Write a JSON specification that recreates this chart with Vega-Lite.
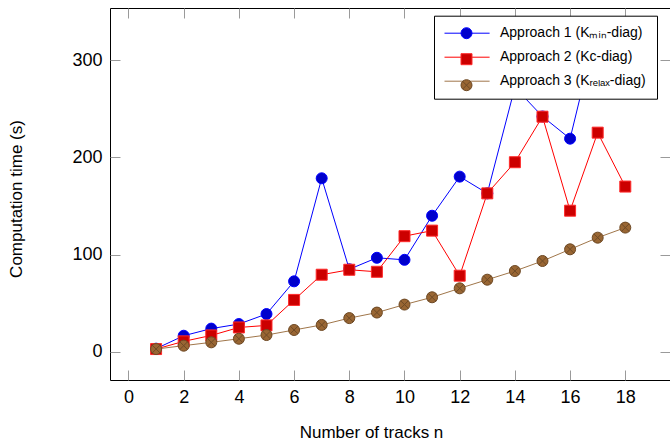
{
  "$schema": "https://vega.github.io/schema/vega-lite/v6.json",
  "width": 560,
  "height": 372,
  "autosize": "none",
  "padding": {"left": 110, "top": 8, "right": 0, "bottom": 64},
  "background": "white",
  "config": {
    "view": {"stroke": "black", "strokeWidth": 1},
    "font": "Liberation Sans",
    "axis": {
      "grid": false,
      "domain": false,
      "ticks": true,
      "tickColor": "#9a9a9a",
      "tickWidth": 1,
      "tickSize": -10,
      "labelColor": "black",
      "titleColor": "black",
      "labelFont": "Liberation Sans",
      "titleFont": "Liberation Sans",
      "labelFontSize": 18,
      "titleFontSize": 17,
      "titleFontWeight": "normal"
    },
    "legend": {
      "title": null,
      "rowPadding": 10,
      "symbolSize": 121,
      "symbolStrokeWidth": 1,
      "labelFont": "Liberation Sans",
      "labelFontSize": 14,
      "labelColor": "black",
      "labelLimit": 300
    }
  },
  "data": {
    "values": [
      {"n": 1, "series": "Approach 1 (Kₘᵢₙ-diag)", "t": 3.4},
      {"n": 2, "series": "Approach 1 (Kₘᵢₙ-diag)", "t": 16.7},
      {"n": 3, "series": "Approach 1 (Kₘᵢₙ-diag)", "t": 24},
      {"n": 4, "series": "Approach 1 (Kₘᵢₙ-diag)", "t": 28.7},
      {"n": 5, "series": "Approach 1 (Kₘᵢₙ-diag)", "t": 39},
      {"n": 6, "series": "Approach 1 (Kₘᵢₙ-diag)", "t": 72.6},
      {"n": 7, "series": "Approach 1 (Kₘᵢₙ-diag)", "t": 178.5},
      {"n": 8, "series": "Approach 1 (Kₘᵢₙ-diag)", "t": 85},
      {"n": 9, "series": "Approach 1 (Kₘᵢₙ-diag)", "t": 96.8},
      {"n": 10, "series": "Approach 1 (Kₘᵢₙ-diag)", "t": 94.7},
      {"n": 11, "series": "Approach 1 (Kₘᵢₙ-diag)", "t": 140},
      {"n": 12, "series": "Approach 1 (Kₘᵢₙ-diag)", "t": 180.2},
      {"n": 13, "series": "Approach 1 (Kₘᵢₙ-diag)", "t": 163},
      {"n": 14, "series": "Approach 1 (Kₘᵢₙ-diag)", "t": 272},
      {"n": 15, "series": "Approach 1 (Kₘᵢₙ-diag)", "t": 242},
      {"n": 16, "series": "Approach 1 (Kₘᵢₙ-diag)", "t": 219.2},
      {"n": 17, "series": "Approach 1 (Kₘᵢₙ-diag)", "t": 336},
      {"n": 18, "series": "Approach 1 (Kₘᵢₙ-diag)", "t": 300},
      {"n": 1, "series": "Approach 2 (Kc-diag)", "t": 3},
      {"n": 2, "series": "Approach 2 (Kc-diag)", "t": 10.9},
      {"n": 3, "series": "Approach 2 (Kc-diag)", "t": 17},
      {"n": 4, "series": "Approach 2 (Kc-diag)", "t": 25.2},
      {"n": 5, "series": "Approach 2 (Kc-diag)", "t": 27.3},
      {"n": 6, "series": "Approach 2 (Kc-diag)", "t": 53.5},
      {"n": 7, "series": "Approach 2 (Kc-diag)", "t": 79.4},
      {"n": 8, "series": "Approach 2 (Kc-diag)", "t": 84.5},
      {"n": 9, "series": "Approach 2 (Kc-diag)", "t": 82.4},
      {"n": 10, "series": "Approach 2 (Kc-diag)", "t": 119},
      {"n": 11, "series": "Approach 2 (Kc-diag)", "t": 124.7},
      {"n": 12, "series": "Approach 2 (Kc-diag)", "t": 78.4},
      {"n": 13, "series": "Approach 2 (Kc-diag)", "t": 163},
      {"n": 14, "series": "Approach 2 (Kc-diag)", "t": 195},
      {"n": 15, "series": "Approach 2 (Kc-diag)", "t": 241.8},
      {"n": 16, "series": "Approach 2 (Kc-diag)", "t": 145.2},
      {"n": 17, "series": "Approach 2 (Kc-diag)", "t": 225.4},
      {"n": 18, "series": "Approach 2 (Kc-diag)", "t": 170},
      {"n": 1, "series": "Approach 3 (Kᵣₑₗₐₓ-diag)", "t": 3},
      {"n": 2, "series": "Approach 3 (Kᵣₑₗₐₓ-diag)", "t": 6.5},
      {"n": 3, "series": "Approach 3 (Kᵣₑₗₐₓ-diag)", "t": 9.9},
      {"n": 4, "series": "Approach 3 (Kᵣₑₗₐₓ-diag)", "t": 13.6},
      {"n": 5, "series": "Approach 3 (Kᵣₑₗₐₓ-diag)", "t": 17.4},
      {"n": 6, "series": "Approach 3 (Kᵣₑₗₐₓ-diag)", "t": 22.6},
      {"n": 7, "series": "Approach 3 (Kᵣₑₗₐₓ-diag)", "t": 27.8},
      {"n": 8, "series": "Approach 3 (Kᵣₑₗₐₓ-diag)", "t": 34.8},
      {"n": 9, "series": "Approach 3 (Kᵣₑₗₐₓ-diag)", "t": 40.5},
      {"n": 10, "series": "Approach 3 (Kᵣₑₗₐₓ-diag)", "t": 48.7},
      {"n": 11, "series": "Approach 3 (Kᵣₑₗₐₓ-diag)", "t": 56.2},
      {"n": 12, "series": "Approach 3 (Kᵣₑₗₐₓ-diag)", "t": 65.4},
      {"n": 13, "series": "Approach 3 (Kᵣₑₗₐₓ-diag)", "t": 74.3},
      {"n": 14, "series": "Approach 3 (Kᵣₑₗₐₓ-diag)", "t": 83.2},
      {"n": 15, "series": "Approach 3 (Kᵣₑₗₐₓ-diag)", "t": 93.5},
      {"n": 16, "series": "Approach 3 (Kᵣₑₗₐₓ-diag)", "t": 105.5},
      {"n": 17, "series": "Approach 3 (Kᵣₑₗₐₓ-diag)", "t": 117.5},
      {"n": 18, "series": "Approach 3 (Kᵣₑₗₐₓ-diag)", "t": 127.8}
    ]
  },
  "layer": [
    {
      "mark": {"type": "line", "strokeWidth": 1, "clip": true},
      "encoding": {
        "x": {"field": "n", "type": "quantitative", "scale": {"domain": [-0.67, 19.62], "nice": false, "zero": false},
          "axis": {"orient": "bottom", "values": [0, 2, 4, 6, 8, 10, 12, 14, 16, 18], "labelPadding": 18, "title": "Number of tracks n", "titleX": 261, "titleY": 57, "titleBaseline": "alphabetic", "titleAnchor": "middle"}},
        "y": {"field": "t", "type": "quantitative", "scale": {"domain": [-28.8, 353.5], "nice": false, "zero": false},
          "axis": {"orient": "left", "values": [0, 100, 200, 300], "labelPadding": 18, "title": "Computation time (s)", "titleX": -89, "titleY": 190.5, "titleBaseline": "alphabetic", "titleAngle": -90}},
        "color": {"field": "series", "type": "nominal", "scale": {"range": ["#0000ff", "#ff0000", "#a0764a"]},
          "legend": {
            "orient": "none", "legendX": 324, "legendY": 7.7, "zindex": 5,
            "fillColor": "white", "strokeColor": "black", "padding": 10.5,
            "symbolType": "M-4,0H4.2", "symbolOffset": 15, "labelOffset": 26.5, "labelAlign": "left"
          }}
      }
    },
    {
      "mark": {"type": "point", "filled": true, "clip": true, "strokeWidth": 1, "opacity": 1, "size": 121},
      "encoding": {
        "x": {"field": "n", "type": "quantitative", "axis": {"orient": "top", "values": [0, 2, 4, 6, 8, 10, 12, 14, 16, 18], "labels": false, "title": null, "tickSize": -10}},
        "y": {"field": "t", "type": "quantitative", "axis": {"orient": "right", "values": [0, 100, 200, 300], "labels": false, "title": null, "tickSize": -10}},
        "fill": {"field": "series", "type": "nominal", "scale": {"range": ["#0000cc", "#cc0000", "#996633"]},
          "legend": {"orient": "top-left", "offset": 0, "zindex": 6, "padding": 18.2, "symbolOffset": 331.3, "labelExpr": "''"}},
        "stroke": {"field": "series", "type": "nominal", "scale": {"range": ["#0000ff", "#ff2a2a", "#6e4a26"]},
          "legend": {"orient": "top-left", "offset": 0, "zindex": 6, "padding": 18.2, "symbolOffset": 331.3, "labelExpr": "''"}},
        "shape": {"field": "series", "type": "nominal",
          "scale": {"range": ["circle", "square", "M1,0A1,1 0 1,1 -1,0A1,1 0 1,1 1,0ZM-0.707,-0.707L0.707,0.707M-0.707,0.707L0.707,-0.707"]},
          "legend": {"orient": "top-left", "offset": 0, "zindex": 6, "padding": 18.2, "symbolOffset": 331.3, "labelExpr": "''"}}
      }
    }
  ],
  "resolve": {"axis": {"x": "independent", "y": "independent"}}
}
